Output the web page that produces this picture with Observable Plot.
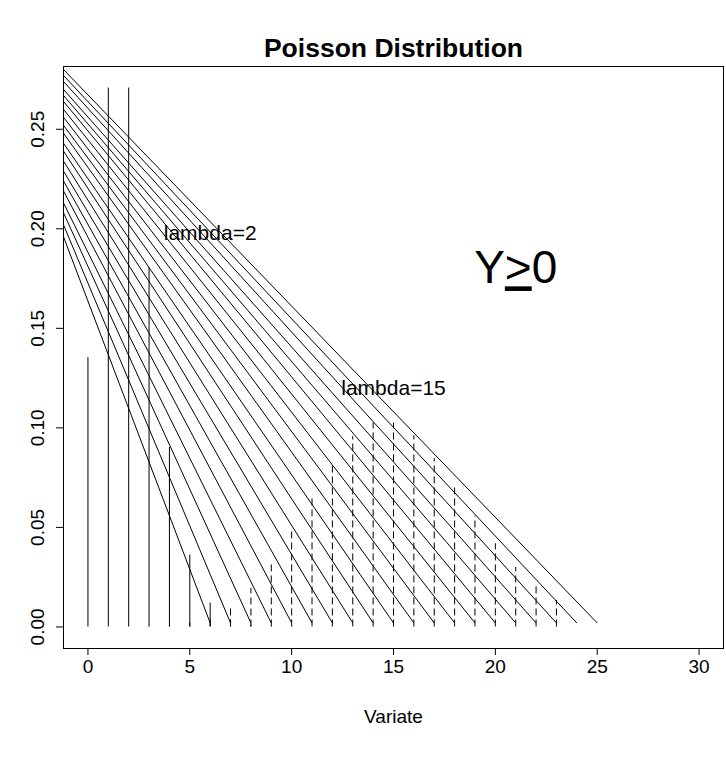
<!DOCTYPE html>
<html>
<head>
<meta charset="utf-8">
<script src="https://cdn.jsdelivr.net/npm/d3@7"></script>
<script src="https://cdn.jsdelivr.net/npm/@observablehq/plot@0.6"></script>
<style>
  body { margin: 0; background: #fff; }
  #chart svg { display: block; }
</style>
</head>
<body>
<div id="chart"></div>
<script>
// Poisson probabilities, lambda = 2 (solid spikes)
const variate2 = [0, 1, 2, 3, 4, 5, 6, 7, 8, 9, 10];
const probLambda2 = [0.1353, 0.2707, 0.2707, 0.1804, 0.0902, 0.0361, 0.0120, 0.0034, 0.0009, 0.0002, 0.00004];

// Poisson probabilities, lambda = 15 (dashed spikes)
const variate15 = [0, 1, 2, 3, 4, 5, 6, 7, 8, 9, 10, 11, 12, 13, 14, 15,
                   16, 17, 18, 19, 20, 21, 22, 23];
const probLambda15 = [0.0000003, 0.0000046, 0.000034, 0.00017, 0.00065, 0.0019, 0.0048,
                      0.0104, 0.0194, 0.0324, 0.0486, 0.0663, 0.0829, 0.0956, 0.1024,
                      0.1024, 0.0960, 0.0847, 0.0706, 0.0557, 0.0418, 0.0299, 0.0204,
                      0.0133];

// Fan of straight lines: left-edge height and the variate where each meets the base
const fanEndVariate = [6, 7, 8, 9, 10, 11, 12, 13, 14, 15, 16, 17, 18, 19, 20, 21, 22, 23, 24, 25];
const fanLeftHeight = [0.196, 0.202, 0.208, 0.213, 0.219, 0.224, 0.229, 0.234, 0.239, 0.243,
                       0.248, 0.252, 0.256, 0.260, 0.264, 0.267, 0.270, 0.274, 0.277, 0.280];
const fanBaseHeight = 0.002;

// Axis ticks
const xTicks = [0, 5, 10, 15, 20, 25, 30];
const yTicks = [0, 0.05, 0.10, 0.15, 0.20, 0.25];

// Annotations
const annotations = [
  {x: 6, y: 0.198, label: "lambda=2"},
  {x: 15, y: 0.12, label: "lambda=15"}
];
const support = [{x: 21, y: 0.18, label: "Y>0"}];

// Plot ranges (R-style 4% padding around 0..30 and 0..max)
const xDomain = [-1.2, 31.2];
const yDomain = [-0.01083, 0.28153];

const lambda2 = variate2.map((x, i) => ({x, p: probLambda2[i]}));
const lambda15 = variate15.map((x, i) => ({x, p: probLambda15[i]}));
const fan = fanEndVariate.map((x, i) => ({end: x, left: fanLeftHeight[i]}));

const font = "Liberation Sans, Arial, Helvetica, sans-serif";

const chart = Plot.plot({
  width: 726,
  height: 757,
  marginLeft: 63,
  marginRight: 3,
  marginTop: 66,
  marginBottom: 109,
  style: {fontFamily: font, background: "#fff", color: "#000"},
  x: {domain: xDomain},
  y: {domain: yDomain},
  marks: [
    Plot.link(fan, {
      x1: () => xDomain[0], y1: "left",
      x2: "end", y2: () => fanBaseHeight,
      stroke: "#000", strokeWidth: 1
    }),
    Plot.ruleX(lambda2, {x: "x", y1: () => 0, y2: "p", stroke: "#000", strokeWidth: 1}),
    Plot.ruleX(lambda15, {x: "x", y1: () => 0, y2: "p", stroke: "#000", strokeWidth: 1, strokeDasharray: "7,4"}),
    Plot.text(annotations, {x: "x", y: "y", text: "label", fontSize: 21, fill: "#000"}),
    Plot.text(support, {x: "x", y: "y", text: "label", fontSize: 46, fill: "#000", className: "support"}),
    Plot.frame({stroke: "#000", strokeWidth: 1}),
    Plot.axisX({ticks: xTicks, tickSize: 7, tickPadding: 4, fontSize: 19, label: null, stroke: "#000", fill: "#000"}),
    Plot.axisY({ticks: yTicks, tickSize: 7, tickPadding: 13, tickRotate: -90, tickFormat: ".2f", fontSize: 19, label: null, stroke: "#000", fill: "#000"}),
    Plot.text(["Variate"], {frameAnchor: "bottom", dy: 74, fontSize: 19, fill: "#000"}),
    Plot.text(["Poisson Distribution"], {frameAnchor: "top", dy: -28, fontSize: 26.5, fontWeight: "bold", fill: "#000"})
  ]
});

// Underline the relation sign in the support label
chart.querySelectorAll(".support text").forEach((t) => {
  t.textContent = "";
  const ns = "http://www.w3.org/2000/svg";
  [["Y", false], [">", true], ["0", false]].forEach(([ch, ul]) => {
    const sp = document.createElementNS(ns, "tspan");
    sp.textContent = ch;
    if (ul) sp.setAttribute("text-decoration", "underline");
    t.appendChild(sp);
  });
});

document.getElementById("chart").appendChild(chart);
</script>
</body>
</html>
